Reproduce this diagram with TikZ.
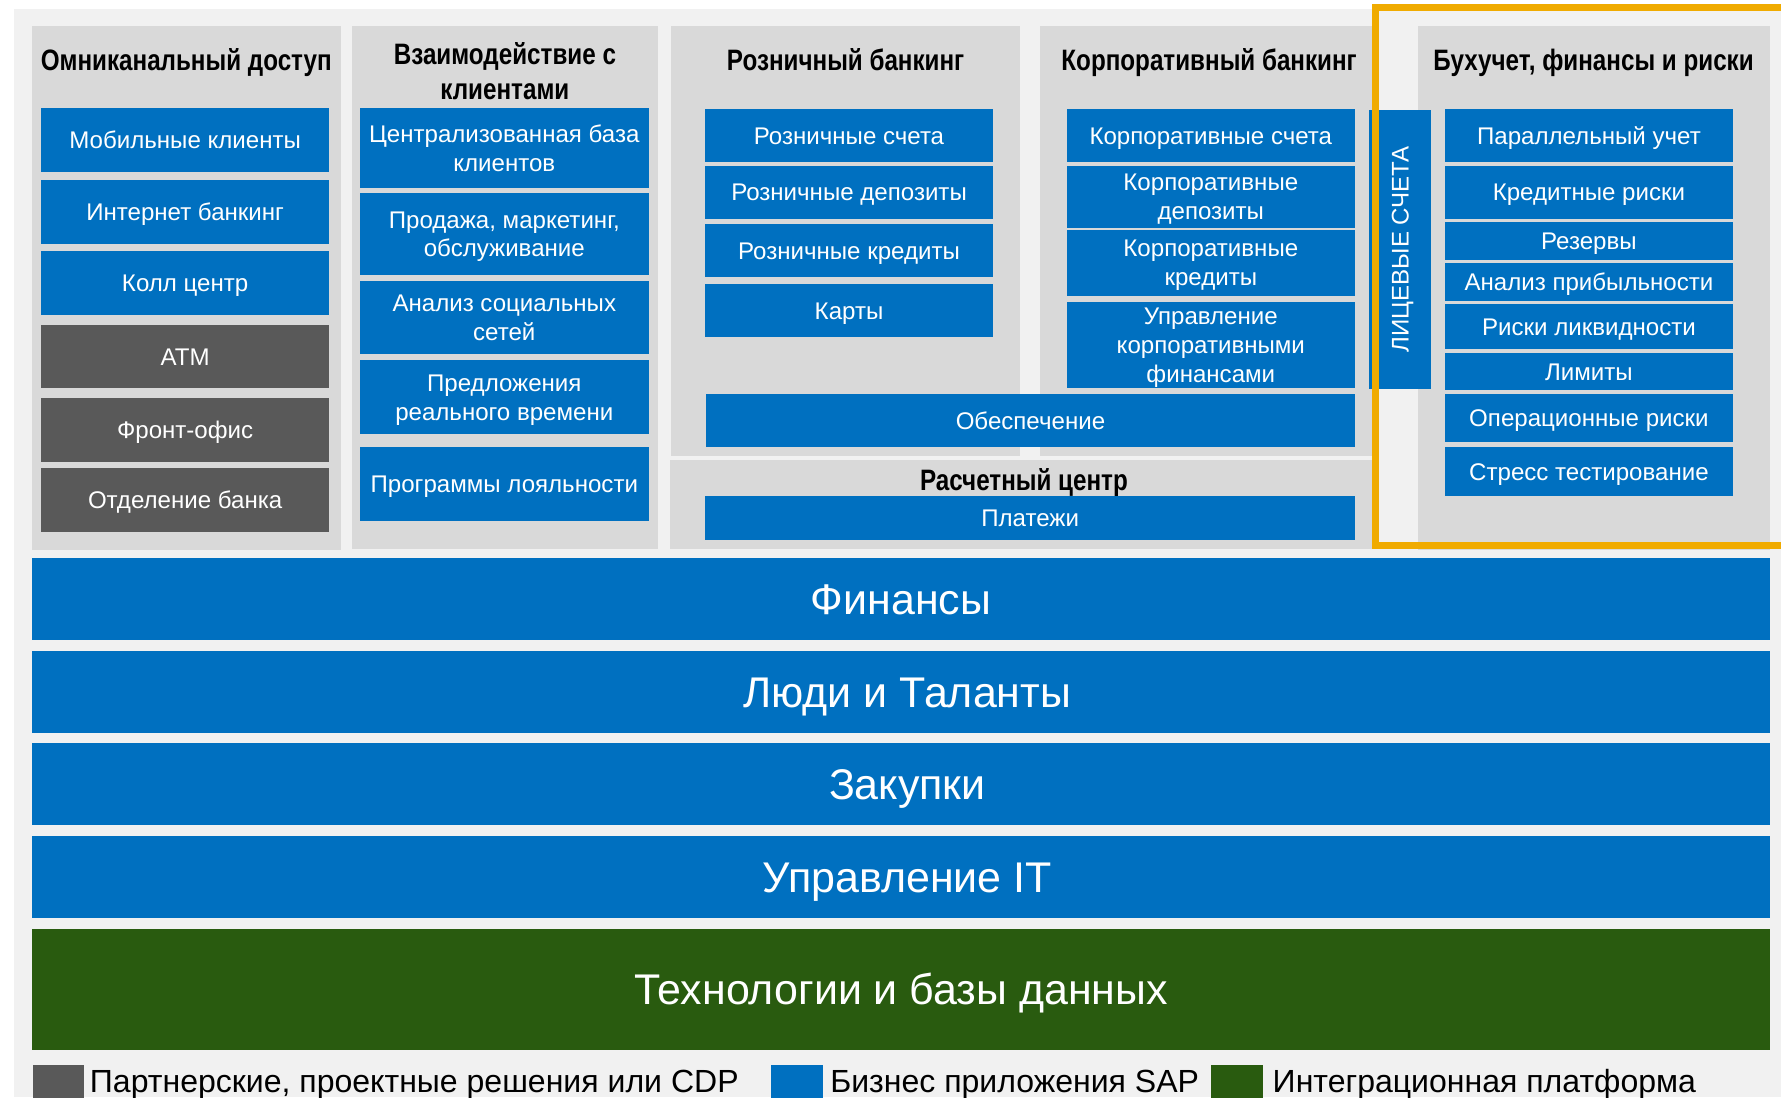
\documentclass[tikz,border=0pt]{standalone}
\usepackage{fontspec}
\setmainfont{Liberation Sans}
\newfontfamily\narrowsans[FakeStretch=0.82]{Liberation Sans}
\usepackage{tikz}

\definecolor{sapblue}{RGB}{0,112,192}
\definecolor{partgray}{RGB}{89,89,89}
\definecolor{panelgray}{RGB}{217,217,217}
\definecolor{bggray}{RGB}{241,241,241}
\definecolor{intgreen}{RGB}{41,91,15}
\definecolor{framegold}{RGB}{240,171,0}

\newcommand{\headfont}{\narrowsans\bfseries\fontsize{26}{30.5}\selectfont}
\newcommand{\boxfont}{\fontsize{21.2}{25.5}\selectfont}
\newcommand{\bandfont}{\fontsize{37.8}{44}\selectfont}
\newcommand{\legfont}{\fontsize{28.2}{33}\selectfont}

\tikzset{
    % серые панели
    panel/.style={fill=panelgray},
    % синие блоки SAP
    sapbox/.style={
        fill=sapblue,
        text=white,
        inner sep=0pt,
        align=center,
        font=\boxfont
    },
    partbox/.style={sapbox, fill=partgray},
    onerow/.style={text height=15.2pt, text depth=0pt},
    tworow/.style={text height=40.7pt, text depth=0pt},
    threerow/.style={text height=66.2pt, text depth=0pt},
    head/.style={inner sep=0pt, anchor=base, align=center, font=\headfont},
    % нижние полосы
    band/.style={
        fill=sapblue,
        text=white,
        inner sep=0pt,
        font=\bandfont,
        minimum width=1530.5,
        text height=27pt,
        text depth=0pt
    },
    legsq/.style={minimum width=45.5, minimum height=40, inner sep=0pt},
    legtext/.style={anchor=base west, inner sep=0pt, font=\legfont}
}

\begin{document}
\begin{tikzpicture}[x=1pt,y=-1pt]
\useasboundingbox (0,0) rectangle (1568,966);
\clip (0,0) rectangle (1568,966);
\fill[white] (0,0) rectangle (1568,966);
\fill[bggray] (12,8) rectangle (1568,966);

% панели
\fill[panel] (28,23) rectangle (300,484);
\fill[panel] (310,23) rectangle (579,483.5);
\fill[panel] (591,23) rectangle (898,401.5);
\fill[panel] (916,23) rectangle (1208,401.5);
\fill[panel] (590,405) rectangle (1208,483);
\fill[panel] (1248,23) rectangle (1558.5,484.5);

% заголовки
\node[head] (homni) at (164,62) {Омниканальный доступ};
\node[head] (hcrm) at (444.5,87.3) {Взаимодействие с\\клиентами};
\node[head] (hretail) at (744.5,62) {Розничный банкинг};
\node[head] (hcorp) at (1064.5,62) {Корпоративный банкинг};
\node[head] (hacc) at (1403,62) {Бухучет, финансы и риски};
\node[head] (hsettle) at (901.5,431.4) {Расчетный центр};

% Омниканальный доступ
\begin{scope}[every node/.append style={minimum width=254}]
\node[sapbox, onerow, minimum height=56.5] (mob) at (163,123.3) {Мобильные клиенты};
\node[sapbox, onerow, minimum height=56.5] (inet) at (163,186.8) {Интернет банкинг};
\node[sapbox, onerow, minimum height=56] (call) at (163,249) {Колл центр};
\node[partbox, onerow, minimum height=56] (atm) at (163,314) {ATM};
\node[partbox, onerow, minimum height=56.3] (front) at (163,378.5) {Фронт-офис};
\node[partbox, onerow, minimum height=56.4] (branch) at (163,440.2) {Отделение банка};
\end{scope}

% Взаимодействие с клиентами
\begin{scope}[every node/.append style={minimum width=254}]
\node[sapbox, tworow, minimum height=70.4] (cbase) at (444,130.2) {Централизованная база\\клиентов};
\node[sapbox, tworow, minimum height=72.2] (sales) at (444,205.9) {Продажа, маркетинг,\\обслуживание};
\node[sapbox, tworow, minimum height=64] (social) at (444,279.3) {Анализ социальных\\сетей};
\node[sapbox, tworow, minimum height=65] (offers) at (444,349.5) {Предложения\\реального времени};
\node[sapbox, onerow, minimum height=64.8] (loyal) at (444,426) {Программы лояльности};
\end{scope}

% Розничный банкинг
\begin{scope}[every node/.append style={minimum width=253.5}]
\node[sapbox, onerow, minimum height=46.5] (racc) at (747.5,119.3) {Розничные счета};
\node[sapbox, onerow, minimum height=46.5] (rdep) at (747.5,169.3) {Розничные депозиты};
\node[sapbox, onerow, minimum height=47] (rcred) at (747.5,220.8) {Розничные кредиты};
\node[sapbox, onerow, minimum height=47] (cards) at (747.5,273.5) {Карты};
\end{scope}

% Корпоративный банкинг
\begin{scope}[every node/.append style={minimum width=253.4}]
\node[sapbox, onerow, minimum height=46.5] (cacc) at (1066,119.3) {Корпоративные счета};
\node[sapbox, tworow, minimum height=54.3] (cdep) at (1066,173.2) {Корпоративные\\депозиты};
\node[sapbox, tworow, minimum height=57.8] (ccred) at (1066,231.4) {Корпоративные\\кредиты};
\node[sapbox, threerow, minimum height=75] (cfin) at (1066,303.8) {Управление\\корпоративными\\финансами};
\end{scope}

\node[sapbox, onerow, minimum width=571, minimum height=46.5] (collat) at (907.2,370.2) {Обеспечение};
\node[sapbox, onerow, minimum width=572, minimum height=38.4] (pay) at (907,456) {Платежи};

% Бухучет, финансы и риски
\begin{scope}[every node/.append style={minimum width=253.3}]
\node[sapbox, onerow, minimum height=46.5] (par) at (1398.9,119.2) {Параллельный учет};
\node[sapbox, onerow, minimum height=46.2] (crisk) at (1398.9,169.3) {Кредитные риски};
\node[sapbox, onerow, minimum height=33] (resv) at (1398.9,212.1) {Резервы};
\node[sapbox, onerow, minimum height=33.3] (prof) at (1398.9,248.4) {Анализ прибыльности};
\node[sapbox, onerow, minimum height=39.5] (liq) at (1398.9,287.8) {Риски ликвидности};
\node[sapbox, onerow, minimum height=33] (lim) at (1398.9,327.2) {Лимиты};
\node[sapbox, onerow, minimum height=42.2] (oprisk) at (1398.9,367.9) {Операционные риски};
\node[sapbox, onerow, minimum height=42.8] (stress) at (1398.9,415.1) {Стресс тестирование};
\end{scope}

\node[sapbox, onerow, rotate=90, minimum width=245.2, minimum height=54.6] (lic) at (1232.6,219.5) {ЛИЦЕВЫЕ СЧЕТА};

% рамка
\draw[framegold, line width=6] (1211,6.6) rectangle (1620,480.4);

% полосы
\node[band, minimum height=72.5] (fin) at (793.3,527.3) {Финансы};
\node[band, minimum height=72] (people) at (793.3,609.2) {\hspace*{11pt}Люди и Таланты};
\node[band, minimum height=72] (purch) at (793.3,690) {\hspace*{11pt}Закупки};
\node[band, minimum height=72] (itm) at (793.3,772) {\hspace*{11pt}Управление IT};
\node[band, fill=intgreen, minimum height=106.3] (tech) at (793.3,871.2) {Технологии и базы данных};

% легенда
\node[legsq, fill=partgray] (lgpart) at (51.5,957.7) {};
\node[legtext] (ltpart) at (79,962) {Партнерские, проектные решения или CDP};
\node[legsq, fill=sapblue] (lgsap) at (701.5,957.7) {};
\node[legtext] (ltsap) at (730.8,962) {Бизнес приложения SAP};
\node[legsq, fill=intgreen] (lgint) at (1089,957.7) {};
\node[legtext] (ltint) at (1120.3,962) {Интеграционная платформа};
\end{tikzpicture}
\end{document}
